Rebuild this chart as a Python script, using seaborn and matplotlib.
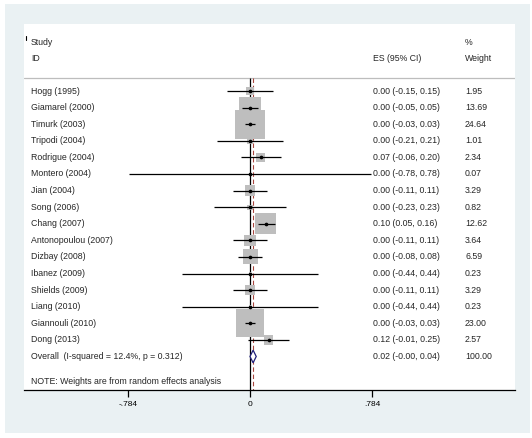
import matplotlib
matplotlib.use("Agg")
import matplotlib.pyplot as plt
from matplotlib.lines import Line2D
from matplotlib.patches import Rectangle
import numpy as np
import pandas as pd
import seaborn as sns

studies = [
    "Hogg (1995)", "Giamarel (2000)", "Timurk (2003)", "Tripodi (2004)",
    "Rodrigue (2004)", "Montero (2004)", "Jian (2004)", "Song (2006)",
    "Chang (2007)", "Antonopoulou (2007)", "Dizbay (2008)", "Ibanez (2009)",
    "Shields (2009)", "Liang (2010)", "Giannouli (2010)", "Dong (2013)",
]
es = [0.00, 0.00, 0.00, 0.00, 0.07, 0.00, 0.00, 0.00,
      0.10, 0.00, 0.00, 0.00, 0.00, 0.00, 0.00, 0.12]
ci_low = [-0.15, -0.05, -0.03, -0.21, -0.06, -0.78, -0.11, -0.23,
          0.05, -0.11, -0.08, -0.44, -0.11, -0.44, -0.03, -0.01]
ci_high = [0.15, 0.05, 0.03, 0.21, 0.20, 0.78, 0.11, 0.23,
           0.16, 0.11, 0.08, 0.44, 0.11, 0.44, 0.03, 0.25]
weights = [1.95, 13.69, 24.64, 1.01, 2.34, 0.07, 3.29, 0.82,
           12.62, 3.64, 6.59, 0.23, 3.29, 0.23, 23.00, 2.57]

overall_label = "Overall  (I-squared = 12.4%, p = 0.312)"
overall_es = 0.02
overall_ci = (-0.00, 0.04)
overall_weight = 100.00
note = "NOTE: Weights are from random effects analysis"
x_ticks = [-0.784, 0, 0.784]
x_tick_labels = ["-.784", "0", ".784"]

df = pd.DataFrame({"study": studies, "es": es, "lo": ci_low, "hi": ci_high, "w": weights})
df["row"] = np.arange(len(df))
overall_row = len(df)

sns.set_style("white")
plt.rcParams["font.family"] = ["Liberation Sans", "DejaVu Sans"]

fig = plt.figure(figsize=(5.32, 4.38), dpi=100, facecolor="white")
fig.add_artist(Rectangle((5 / 532, 1 - 433 / 438), 525 / 532, 429 / 438,
                         transform=fig.transFigure, facecolor="#EAF1F3",
                         edgecolor="none", zorder=0))
ax = fig.add_axes([24 / 532, 1 - 390 / 438, 491 / 532, 366 / 438])
ax.set_facecolor("white")
ax.set_zorder(1)

fs = 6.3
sep_y = -0.78

# reference lines
ax.vlines(0, sep_y, 18.05, color="black", linewidth=0.9, zorder=2)
ax.vlines(overall_es, sep_y, 18.05, color="#A8463E", linewidth=0.8,
          linestyles=(0, (4, 2.5)), zorder=2)
ax.axhline(sep_y, color="#BDBDBD", linewidth=0.9, zorder=1)

# weight boxes
w_min, w_max = min(weights), max(weights)
k = 17.7
sns.scatterplot(data=df, x="es", y="row", size="w", sizes=(k * w_min, k * w_max),
                size_norm=(w_min, w_max), marker="s", color="#BEBEBE",
                linewidth=0, legend=False, ax=ax, zorder=3)
# confidence intervals
ax.hlines(df["row"], df["lo"], df["hi"], color="black", linewidth=0.9, zorder=4)
sns.scatterplot(data=df, x="es", y="row", color="black", s=7, linewidth=0,
                legend=False, ax=ax, zorder=5)

# overall diamond
dx = [overall_ci[0], overall_es, overall_ci[1], overall_es, overall_ci[0]]
dy = [overall_row, overall_row - 0.38, overall_row, overall_row + 0.38, overall_row]
ax.fill(dx, dy, facecolor="white", edgecolor="#1F1F7A", linewidth=0.9, zorder=5)

# text columns
x_name, x_es, x_w = -1.407, 0.790, 1.382
ax.text(x_name, -2.95, "Study", fontsize=fs, va="center")
ax.text(x_name, -1.99, "ID", fontsize=fs, va="center")
ax.text(x_es, -1.99, "ES (95% CI)", fontsize=fs, va="center")
ax.text(x_w, -2.95, "%", fontsize=fs, va="center")
ax.text(x_w, -1.99, "Weight", fontsize=fs, va="center")
for _, r in df.iterrows():
    ax.text(x_name, r["row"], r["study"], fontsize=fs, va="center")
    ax.text(x_es, r["row"], f"{r['es']:.2f} ({r['lo']:.2f}, {r['hi']:.2f})",
            fontsize=fs, va="center")
    ax.text(x_w, r["row"], f"{r['w']:.2f}", fontsize=fs, va="center")
ax.text(x_name, overall_row, overall_label, fontsize=fs, va="center")
ax.text(x_es, overall_row,
        f"{overall_es:.2f} ({overall_ci[0]:.2f}, {overall_ci[1]:.2f})".replace("(0.00", "(-0.00"),
        fontsize=fs, va="center")
ax.text(x_w, overall_row, f"{overall_weight:.2f}", fontsize=fs, va="center")
ax.text(x_name, 17.53, note, fontsize=fs, va="center")

ax.set_xlim(-1.4524, 1.703)
ax.set_ylim(18.02, -4.04)
ax.set_xticks(x_ticks)
ax.set_xticklabels(x_tick_labels, fontsize=6)
ax.set_yticks([])
ax.set_xlabel("")
ax.set_ylabel("")
ax.tick_params(axis="x", direction="out", length=5, width=0.9, pad=3,
               bottom=True, colors="black")
for side in ["left", "top", "right"]:
    ax.spines[side].set_visible(False)
ax.spines["bottom"].set_color("black")
ax.spines["bottom"].set_linewidth(0.9)

fig.add_artist(Line2D([25.5 / 532, 25.5 / 532], [1 - 36 / 438, 1 - 40 / 438],
                      transform=fig.transFigure, color="black", linewidth=0.8))

fig.savefig("out.png", dpi=100)
